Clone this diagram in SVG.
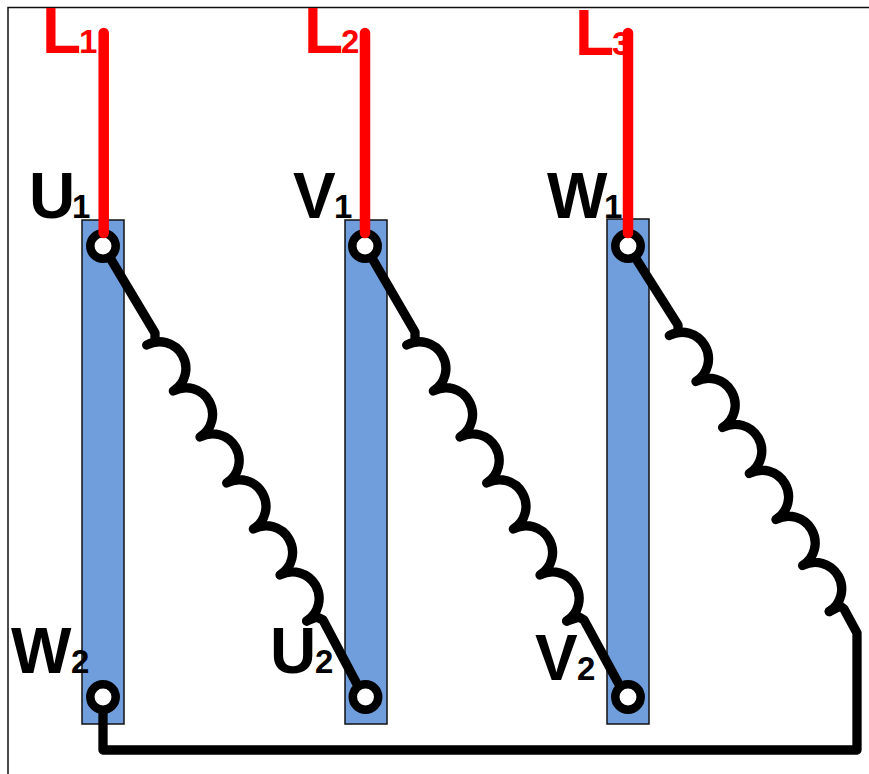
<svg xmlns="http://www.w3.org/2000/svg" width="869" height="774" viewBox="0 0 869 774">
<style>
.bar{fill:#709ddc;stroke:#111;stroke-width:1.500}
.wire{fill:none;stroke:#000;stroke-width:9.300;stroke-linecap:round;stroke-linejoin:round}
.red{fill:none;stroke:#f00;stroke-width:10.500;stroke-linecap:round}
.term{fill:#fff;stroke:#000;stroke-width:8.500}
text{font-family:"Liberation Sans",Arial,sans-serif;font-weight:bold}
.b{font-size:64px}
.s{font-size:33px}
.k{fill:#000}
.r{fill:#f00}
</style>
<defs>
<path id="coil" class="wire" d="M0 0A26.600 26.600 0 0 1 26.670 46A26.600 26.600 0 0 1 53.340 92A26.600 26.600 0 0 1 80 138A26.600 26.600 0 0 1 106.680 184A26.600 26.600 0 0 1 133.350 230A26.600 26.600 0 0 1 160 276"/>
</defs>
<rect id="frame" x="8" y="7.500" width="900" height="800" fill="#fff" stroke="#111" stroke-width="1.500"/>
<g id="bar-1"><rect class="bar" x="82" y="220" width="42" height="504"/></g>
<g id="bar-2"><rect class="bar" x="345" y="220" width="42" height="504"/></g>
<g id="bar-3"><rect class="bar" x="607" y="219" width="42" height="505"/></g>
<g id="labels-red">
<g id="L1"><text class="b r" x="42" y="52.500">L</text><text class="s r" x="79" y="52.500">1</text></g>
<g id="L2"><text class="b r" x="304" y="53">L</text><text class="s r" x="341" y="53">2</text></g>
<g id="L3"><text class="b r" x="575" y="55">L</text><text class="s r" x="612" y="55">3</text></g>
</g>
<g id="connectors">
<path class="wire" d="M103 246L155 333L155 339"/>
<path class="wire" d="M365 246L415 332L415 338"/>
<path class="wire" d="M628 246L678 325L678 331"/>
<use href="#coil" x="146.700" y="345"/>
<use href="#coil" x="406.700" y="345"/>
<use href="#coil" x="669.300" y="335.500"/>
<path class="wire" d="M306.700 621L317 617L323 620L359 688"/>
<path class="wire" d="M566.700 621L579 617L584 620L621 688"/>
<path class="wire" d="M829.300 611.500L840 606L844 609L857 633L857 750L103 750L103 697"/>
</g>
<g id="U1"><circle class="term" cx="103" cy="246" r="12.700"/><text class="b k" x="29" y="218">U</text><text class="s k" x="72" y="218">1</text></g>
<g id="V1"><circle class="term" cx="365" cy="246" r="12.700"/><text class="b k" x="293" y="218">V</text><text class="s k" x="334" y="218">1</text></g>
<g id="W1"><circle class="term" cx="628" cy="246" r="12.700"/><text class="b k" x="547" y="218">W</text><text class="s k" x="604" y="218">1</text></g>
<g id="W2"><circle class="term" cx="103" cy="697" r="12.700"/><text class="b k" x="11" y="673">W</text><text class="s k" x="71" y="673">2</text></g>
<g id="U2"><circle class="term" cx="365.500" cy="697" r="12.700"/><text class="b k" x="270" y="673">U</text><text class="s k" x="315" y="673">2</text></g>
<g id="V2"><circle class="term" cx="628" cy="697" r="12.700"/><text class="b k" x="535" y="680">V</text><text class="s k" x="577" y="680">2</text></g>
<g id="red-wires">
<path class="red" d="M103.700 33V233"/>
<path class="red" d="M365 33V233"/>
<path class="red" d="M628 33V233"/>
</g>
</svg>
